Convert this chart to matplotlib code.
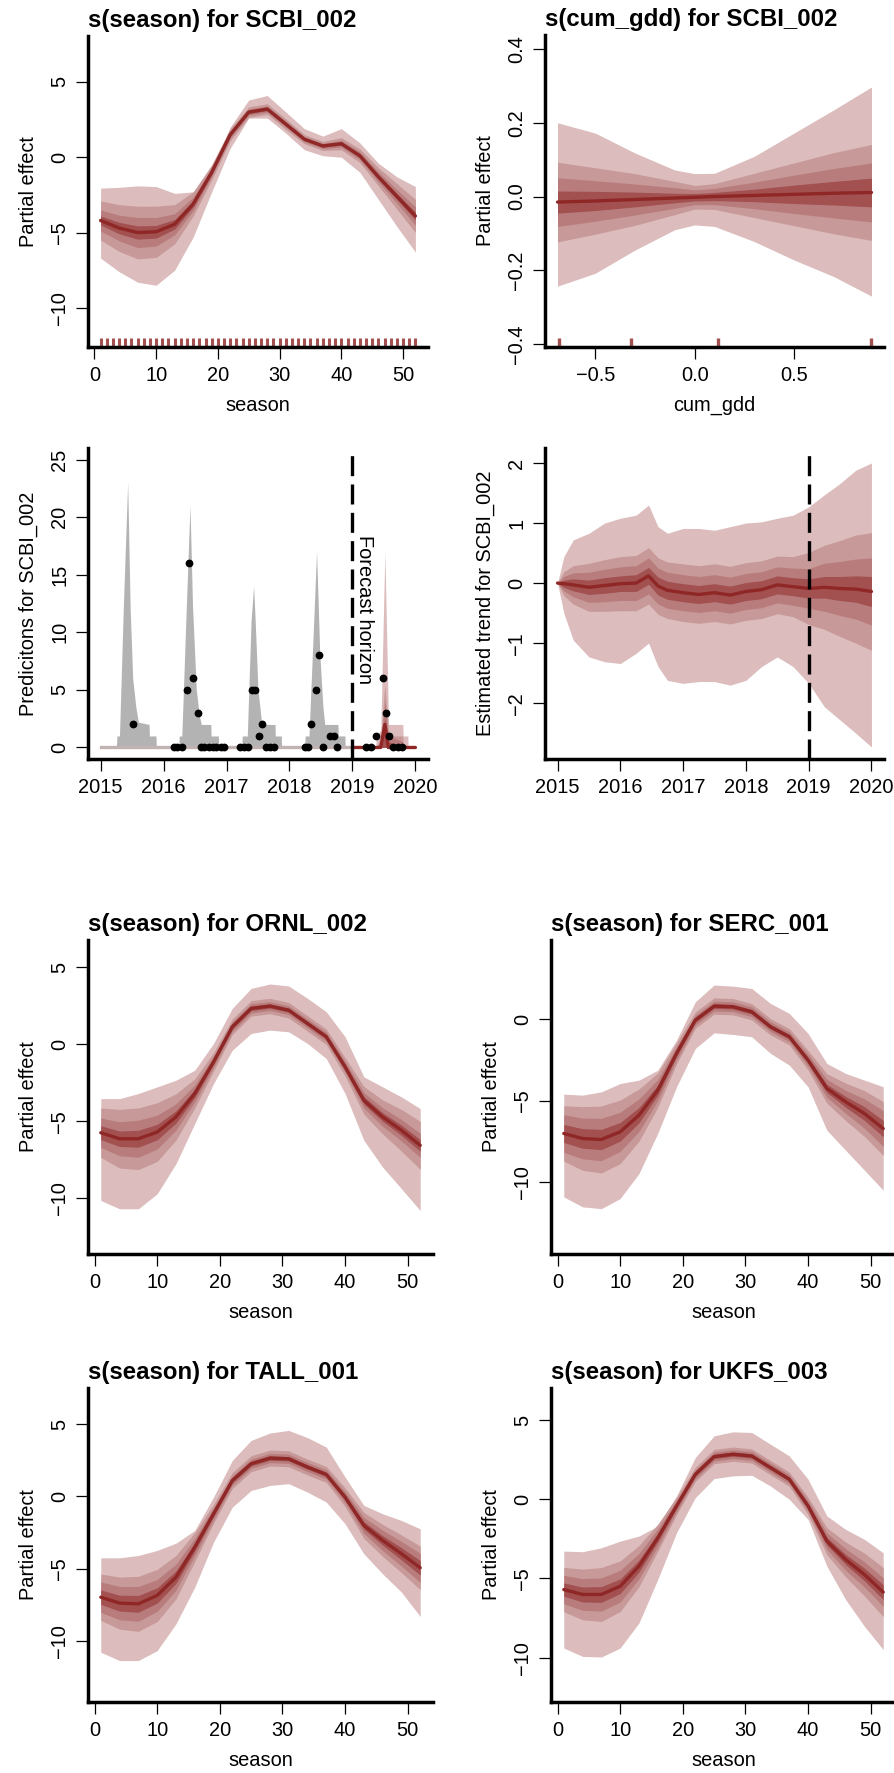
import matplotlib
matplotlib.use("Agg")
import matplotlib.pyplot as plt
import numpy as np

plt.rcParams['font.family'] = ['Liberation Sans', 'DejaVu Sans']

# ---- colours (mvgam "reds") ----
C_OUT, C_60, C_40, C_20, C_MED = "#DCBCBC", "#C79999", "#B97C7C", "#A25050", "#8F2727"
C_GREY = "#B3B3B3"

# ---- seasonal smooths ----
season_pts = [1, 4, 7, 10, 13, 16, 19, 22, 25, 28, 31, 34, 37, 40, 43, 46, 49, 52]
rug_weeks = list(range(1, 53))

scbi_med = [-4.2, -4.7, -5.0, -4.95, -4.45, -3.1, -1.0, 1.5, 3.0, 3.2, 2.2, 1.2, 0.75, 0.9, 0.1, -1.3, -2.6, -3.9]
scbi_hi = [-2.05, -2.0, -1.9, -1.95, -2.4, -2.3, -0.8, 2.0, 3.8, 4.1, 3.0, 1.9, 1.4, 1.9, 0.95, -0.4, -1.3, -1.95]
scbi_lo = [-6.7, -7.6, -8.3, -8.5, -7.5, -5.3, -2.3, 0.6, 2.6, 2.6, 1.6, 0.5, 0.1, 0.0, -1.0, -2.8, -4.6, -6.3]
scbi_w60 = [1.3, 1.55, 1.75, 1.7, 1.3, 0.8, 0.5, 0.4, 0.35, 0.35, 0.35, 0.3, 0.3, 0.4, 0.45, 0.6, 0.85, 1.1]
scbi_w40 = [0.7, 0.85, 1.0, 0.95, 0.7, 0.45, 0.28, 0.22, 0.2, 0.2, 0.2, 0.17, 0.17, 0.22, 0.25, 0.33, 0.45, 0.6]
scbi_w20 = [0.3, 0.38, 0.44, 0.42, 0.32, 0.2, 0.13, 0.1, 0.1, 0.1, 0.1, 0.08, 0.08, 0.1, 0.12, 0.15, 0.2, 0.25]

ornl_med = [-5.74, -6.13, -6.13, -5.7, -4.72, -3.2, -1.15, 1.13, 2.32, 2.47, 2.2, 1.34, 0.48, -1.47, -3.64, -4.72, -5.58, -6.56]
ornl_hi = [-3.53, -3.53, -3.2, -2.77, -2.34, -1.69, 0.04, 2.32, 3.61, 3.9, 3.77, 2.97, 2.1, 0.48, -2.12, -2.77, -3.42, -4.18]
ornl_lo = [-10.13, -10.67, -10.67, -9.7, -7.75, -5.15, -2.55, -0.39, 0.69, 0.91, 0.8, 0.04, -0.93, -3.2, -6.23, -7.97, -9.37, -10.78]
ornl_w60 = [1.6, 1.9, 2.0, 1.9, 1.5, 0.95, 0.6, 0.5, 0.5, 0.5, 0.5, 0.5, 0.5, 0.6, 0.9, 1.1, 1.35, 1.55]
ornl_w40 = [0.95, 1.1, 1.2, 1.1, 0.85, 0.55, 0.35, 0.3, 0.3, 0.28, 0.28, 0.28, 0.3, 0.35, 0.5, 0.6, 0.7, 0.78]
ornl_w20 = [0.45, 0.5, 0.55, 0.5, 0.4, 0.26, 0.16, 0.14, 0.14, 0.13, 0.13, 0.13, 0.14, 0.17, 0.24, 0.28, 0.33, 0.38]

serc_med = [-7.01, -7.32, -7.38, -6.91, -5.89, -4.36, -2.1, -0.06, 0.8, 0.76, 0.45, -0.47, -1.08, -2.52, -4.25, -5.07, -5.79, -6.71]
serc_hi = [-4.6, -4.66, -4.46, -3.95, -3.74, -3.13, -1.29, 1.06, 2.09, 2.02, 1.88, 0.96, 0.35, -0.88, -2.72, -3.33, -3.74, -4.15]
serc_lo = [-10.9, -11.51, -11.62, -11.0, -9.47, -7.01, -4.15, -1.8, -0.84, -0.94, -1.08, -2.1, -2.82, -4.15, -6.81, -8.04, -9.26, -10.49]
serc_w60 = [1.7, 1.95, 2.05, 1.95, 1.6, 1.05, 0.65, 0.5, 0.5, 0.5, 0.5, 0.5, 0.5, 0.6, 0.9, 1.15, 1.4, 1.65]
serc_w40 = [1.15, 1.25, 1.3, 1.2, 1.0, 0.65, 0.4, 0.3, 0.3, 0.3, 0.3, 0.3, 0.3, 0.36, 0.55, 0.7, 0.9, 1.1]
serc_w20 = [0.55, 0.6, 0.62, 0.57, 0.47, 0.3, 0.18, 0.14, 0.14, 0.14, 0.14, 0.14, 0.14, 0.17, 0.25, 0.33, 0.42, 0.5]

tall_med = [-6.96, -7.37, -7.42, -6.84, -5.58, -3.5, -1.2, 1.1, 2.26, 2.65, 2.6, 2.03, 1.52, -0.05, -2.0, -3.04, -3.96, -4.93]
tall_hi = [-4.24, -4.24, -4.08, -3.73, -3.23, -2.35, -0.05, 2.49, 3.87, 4.38, 4.56, 4.06, 3.41, 1.34, -0.62, -1.2, -1.66, -2.24]
tall_lo = [-10.76, -11.34, -11.34, -10.65, -8.8, -6.27, -3.16, -0.74, 0.41, 0.76, 0.88, 0.3, -0.39, -1.89, -3.96, -5.35, -6.61, -8.29]
tall_w60 = [1.6, 1.8, 1.9, 1.8, 1.5, 1.0, 0.65, 0.55, 0.55, 0.55, 0.55, 0.55, 0.55, 0.65, 0.9, 1.1, 1.3, 1.5]
tall_w40 = [1.05, 1.15, 1.2, 1.1, 0.9, 0.6, 0.4, 0.32, 0.32, 0.32, 0.32, 0.32, 0.32, 0.38, 0.55, 0.7, 0.85, 1.0]
tall_w20 = [0.5, 0.55, 0.58, 0.53, 0.43, 0.28, 0.18, 0.15, 0.15, 0.15, 0.15, 0.15, 0.15, 0.18, 0.26, 0.33, 0.42, 0.5]

ukfs_med = [-5.7, -6.01, -6.01, -5.49, -4.22, -2.43, -0.42, 1.58, 2.7, 2.85, 2.74, 2.0, 1.27, -0.42, -2.64, -3.8, -4.75, -5.86]
ukfs_hi = [-3.27, -3.31, -3.06, -2.64, -2.32, -1.69, 0.21, 2.64, 4.01, 4.26, 4.22, 3.48, 2.74, 1.27, -1.05, -1.9, -2.53, -3.38]
ukfs_lo = [-9.39, -9.92, -9.96, -9.39, -7.81, -5.06, -2.11, 0.11, 1.31, 1.48, 1.52, 0.84, 0.0, -1.27, -4.22, -6.33, -8.02, -9.49]
ukfs_w60 = [1.4, 1.6, 1.7, 1.6, 1.3, 0.85, 0.55, 0.45, 0.45, 0.45, 0.45, 0.45, 0.45, 0.55, 0.85, 1.1, 1.35, 1.55]
ukfs_w40 = [0.9, 1.0, 1.05, 1.0, 0.8, 0.55, 0.35, 0.28, 0.28, 0.28, 0.28, 0.28, 0.28, 0.34, 0.52, 0.68, 0.8, 0.9]
ukfs_w20 = [0.42, 0.47, 0.5, 0.46, 0.38, 0.25, 0.16, 0.13, 0.13, 0.13, 0.13, 0.13, 0.13, 0.16, 0.24, 0.32, 0.4, 0.47]

# ---- cum_gdd smooth ----
gdd_x = [-0.69, -0.5, -0.3, -0.1, 0.0, 0.1, 0.3, 0.5, 0.7, 0.89]
gdd_med = [-0.015, -0.012, -0.008, -0.004, -0.002, 0.0, 0.003, 0.006, 0.009, 0.011]
gdd_hi = [0.2, 0.172, 0.118, 0.072, 0.062, 0.063, 0.109, 0.172, 0.235, 0.297]
gdd_lo = [-0.243, -0.208, -0.145, -0.09, -0.077, -0.081, -0.122, -0.172, -0.217, -0.27]
gdd_w60 = [0.108, 0.09, 0.07, 0.045, 0.032, 0.035, 0.06, 0.085, 0.11, 0.13]
gdd_w40 = [0.066, 0.055, 0.042, 0.028, 0.02, 0.022, 0.036, 0.052, 0.067, 0.08]
gdd_w20 = [0.03, 0.026, 0.02, 0.013, 0.01, 0.011, 0.017, 0.025, 0.032, 0.039]
rug_gdd = [-0.685, -0.32, 0.12, 0.89]

# ---- predictions for SCBI_002 ----
hind_t = [2015.00, 2015.25, 2015.26, 2015.30, 2015.36, 2015.43, 2015.47, 2015.51, 2015.56, 2015.60, 2015.77, 2015.775, 2015.88, 2015.885,
          2016.24, 2016.25, 2016.29, 2016.36, 2016.42, 2016.46, 2016.52, 2016.57, 2016.60, 2016.75, 2016.755, 2016.87, 2016.875,
          2017.24, 2017.25, 2017.33, 2017.39, 2017.43, 2017.45, 2017.50, 2017.55, 2017.555, 2017.77, 2017.775, 2017.87, 2017.875,
          2018.24, 2018.25, 2018.31, 2018.37, 2018.43, 2018.48, 2018.53, 2018.56, 2018.77, 2018.775, 2018.88, 2018.885, 2019.00]
hind_hi = [0, 0, 1, 1, 12, 23, 12, 6, 3.5, 2.2, 2, 1, 1, 0,
           0, 1, 1, 12, 21, 12.3, 5, 2.7, 2, 2, 1, 1, 0,
           0, 1, 1, 11, 14, 11.7, 5, 2.5, 2, 2, 1, 1, 0,
           0, 1, 1, 9, 17, 8.3, 3.6, 2, 2, 1, 1, 0, 0]
hind_mid_t = [2015.0, 2019.0]
hind_mid = [0, 0]

fc_t = [2019.00, 2019.37, 2019.38, 2019.45, 2019.515, 2019.57, 2019.575, 2019.80, 2019.805, 2019.88, 2019.885, 2020.00]
fc_q90 = [0, 0, 1, 1.5, 17, 3, 2, 2, 1, 1, 0, 0]
fc_q80 = [0, 0, 0, 1, 5.5, 1.5, 1, 1, 0, 0, 0, 0]
fc_q70 = [0, 0, 0, 0.5, 4, 1, 1, 0.5, 0, 0, 0, 0]
fc_q60 = [0, 0, 0, 0, 2.5, 0.5, 0.5, 0, 0, 0, 0, 0]
fc_med = [0, 0, 0, 0, 2, 0, 0, 0, 0, 0, 0, 0]

obs_t = [2015.51,
         2016.16, 2016.22, 2016.29, 2016.38, 2016.41, 2016.47, 2016.54, 2016.59, 2016.65, 2016.72, 2016.78, 2016.84, 2016.91, 2016.96,
         2017.22, 2017.28, 2017.34, 2017.41, 2017.46, 2017.52, 2017.57, 2017.62, 2017.69, 2017.75,
         2018.24, 2018.30, 2018.34, 2018.42, 2018.47, 2018.53, 2018.64, 2018.71, 2018.76,
         2019.22, 2019.29, 2019.37, 2019.48, 2019.53, 2019.58, 2019.65, 2019.72, 2019.78]
obs_y = [2,
         0, 0, 0, 5, 16, 6, 3, 0, 0, 0, 0, 0, 0, 0,
         0, 0, 0, 5, 5, 1, 2, 0, 0, 0,
         0, 0, 2, 5, 8, 0, 1, 1, 0,
         0, 0, 1, 6, 3, 1, 0, 0, 0]

# ---- estimated trend for SCBI_002 ----
tr_t = [2015.0, 2015.1, 2015.25, 2015.5, 2015.75, 2016.0, 2016.25, 2016.45, 2016.6, 2016.75, 2017.0, 2017.25,
        2017.5, 2017.75, 2018.0, 2018.25, 2018.5, 2018.75, 2019.0, 2019.25, 2019.5, 2019.75, 2020.0]
tr_med = [0, -0.01, -0.03, -0.07, -0.04, -0.01, 0.0, 0.12, -0.05, -0.12, -0.16, -0.19,
          -0.16, -0.2, -0.14, -0.11, -0.03, -0.06, -0.09, -0.07, -0.09, -0.1, -0.14]
tr_hi = [0, 0.44, 0.72, 0.83, 1.0, 1.08, 1.13, 1.3, 0.94, 0.83, 0.91, 0.91,
         0.88, 0.94, 1.0, 1.02, 1.08, 1.13, 1.27, 1.47, 1.66, 1.88, 2.0]
tr_lo = [0, -0.5, -0.95, -1.23, -1.31, -1.34, -1.17, -1.0, -1.39, -1.62, -1.67, -1.64,
         -1.64, -1.7, -1.62, -1.39, -1.23, -1.39, -1.67, -2.06, -2.28, -2.5, -2.73]
tr_w60 = [0, 0.2, 0.32, 0.4, 0.43, 0.45, 0.46, 0.47, 0.47, 0.47, 0.48, 0.48,
          0.48, 0.48, 0.48, 0.48, 0.48, 0.5, 0.6, 0.7, 0.8, 0.9, 0.98]
tr_w40 = [0, 0.12, 0.2, 0.25, 0.27, 0.28, 0.29, 0.3, 0.3, 0.3, 0.3, 0.3,
          0.3, 0.3, 0.3, 0.3, 0.3, 0.31, 0.33, 0.4, 0.45, 0.5, 0.56]
tr_w20 = [0, 0.06, 0.1, 0.12, 0.13, 0.13, 0.14, 0.14, 0.15, 0.15, 0.15, 0.15,
          0.15, 0.15, 0.15, 0.15, 0.15, 0.15, 0.16, 0.18, 0.2, 0.22, 0.25]

year_ticks = [2015, 2016, 2017, 2018, 2019, 2020]
season_ticks = [0, 10, 20, 30, 40, 50]

W, H = 894, 1773
fig = plt.figure(figsize=(W / 100, H / 100), dpi=100)
FS = 14.4


def add_ax(x0, y0, x1, y1):
    return fig.add_axes([x0 / W, 1 - y1 / H, (x1 - x0) / W, (y1 - y0) / H])


def style(ax, yticks, ylabels=None, xticks=None, xlabels=None):
    for s in ["top", "right"]:
        ax.spines[s].set_visible(False)
    for s in ["left", "bottom"]:
        ax.spines[s].set_linewidth(2.5)
    ax.tick_params(length=8.5, width=0.9, labelsize=FS, pad=5)
    ax.set_yticks(yticks)
    if ylabels is not None:
        ax.set_yticklabels(ylabels)
    if xticks is not None:
        ax.set_xticks(xticks)
        if xlabels is not None:
            ax.set_xticklabels(xlabels)
    plt.setp(ax.get_yticklabels(), rotation=90, va="center")


def smooth(ax, x, med, lo, hi, w60, w40, w20):
    med = np.array(med)
    ax.fill_between(x, lo, hi, color=C_OUT, lw=0)
    for w, c in ((w60, C_60), (w40, C_40), (w20, C_20)):
        ax.fill_between(x, med - np.array(w), med + np.array(w), color=c, lw=0)
    ax.plot(x, med, color=C_MED, lw=2.4, solid_capstyle="round")


def season_panel(ax, title, med, lo, hi, w60, w40, w20, ylim, yticks):
    smooth(ax, season_pts, med, lo, hi, w60, w40, w20)
    ax.set_xlim(-1.04, 54.04)
    ax.set_ylim(*ylim)
    style(ax, yticks, xticks=season_ticks)
    ax.set_title(title, loc="left", fontsize=17.3, fontweight="bold", pad=6.5)
    ax.set_ylabel("Partial effect", fontsize=FS, labelpad=9)
    ax.set_xlabel("season", fontsize=FS, labelpad=8)


# panel 1: s(season) SCBI
ax1 = add_ax(88, 36, 428, 347)
season_panel(ax1, "s(season) for SCBI_002", scbi_med, scbi_lo, scbi_hi, scbi_w60, scbi_w40, scbi_w20,
             (-12.6, 8.05), [-10, -5, 0, 5])
ax1.vlines(rug_weeks, 0, 0.03, transform=ax1.get_xaxis_transform(), color=C_20, lw=2.2)

# panel 2: s(cum_gdd) SCBI
ax2 = add_ax(545, 35, 884, 347)
smooth(ax2, gdd_x, gdd_med, gdd_lo, gdd_hi, gdd_w60, gdd_w40, gdd_w20)
ax2.vlines(rug_gdd, 0, 0.03, transform=ax2.get_xaxis_transform(), color=C_20, lw=2.4)
ax2.set_xlim(-0.753, 0.953)
ax2.set_ylim(-0.408, 0.438)
style(ax2, [-0.4, -0.2, 0.0, 0.2, 0.4], ["\u22120.4", "\u22120.2", "0.0", "0.2", "0.4"],
      [-0.5, 0.0, 0.5], ["\u22120.5", "0.0", "0.5"])
ax2.set_title("s(cum_gdd) for SCBI_002", loc="left", fontsize=17.3, fontweight="bold", pad=6.5)
ax2.set_ylabel("Partial effect", fontsize=FS, labelpad=9)
ax2.set_xlabel("cum_gdd", fontsize=FS, labelpad=8)

year_labels = [str(y) for y in year_ticks]
dash = (0, (6, 2.5))

# panel 3: predictions
ax3 = add_ax(88, 448, 428, 759)
ax3.fill_between(hind_t, 0, hind_hi, color=C_GREY, lw=0)
ax3.plot(hind_mid_t, hind_mid, color="#C2B2B2", lw=2.4)
ax3.fill_between(fc_t, 0, fc_q90, color=C_OUT, lw=0)
ax3.fill_between(fc_t, 0, fc_q80, color=C_60, lw=0)
ax3.fill_between(fc_t, 0, fc_q70, color=C_40, lw=0)
ax3.fill_between(fc_t, 0, fc_q60, color=C_20, lw=0)
ax3.plot(fc_t, fc_med, color=C_MED, lw=2.4, solid_capstyle="round")
ax3.axvline(2019, color="black", lw=2.4, ls=dash)
ax3.plot(obs_t, obs_y, "o", color="black", ms=4.6, zorder=5)
ax3.text(2019.04, 12, "Forecast horizon", rotation=270, ha="left", va="center", fontsize=FS)
ax3.set_xlim(2014.8, 2020.2)
ax3.set_ylim(-1, 26)
style(ax3, [0, 5, 10, 15, 20, 25], xticks=year_ticks, xlabels=year_labels)
ax3.set_ylabel("Predicitons for SCBI_002", fontsize=FS, labelpad=9)

# panel 4: trend
ax4 = add_ax(545, 448, 884, 759)
smooth(ax4, tr_t, tr_med, tr_lo, tr_hi, tr_w60, tr_w40, tr_w20)
ax4.axvline(2019, color="black", lw=2.4, ls=dash)
ax4.set_xlim(2014.8, 2020.2)
ax4.set_ylim(-2.93, 2.25)
style(ax4, [-2, -1, 0, 1, 2], xticks=year_ticks, xlabels=year_labels)
ax4.set_ylabel("Estimated trend for SCBI_002", fontsize=FS, labelpad=9)

# lower block
ax5 = add_ax(88, 940, 433, 1254)
season_panel(ax5, "s(season) for ORNL_002", ornl_med, ornl_lo, ornl_hi, ornl_w60, ornl_w40, ornl_w20,
             (-13.6, 6.75), [-10, -5, 0, 5])
ax6 = add_ax(551, 940, 896, 1254)
season_panel(ax6, "s(season) for SERC_001", serc_med, serc_lo, serc_hi, serc_w60, serc_w40, serc_w20,
             (-14.4, 4.85), [-10, -5, 0])
ax7 = add_ax(88, 1388, 433, 1702)
season_panel(ax7, "s(season) for TALL_001", tall_med, tall_lo, tall_hi, tall_w60, tall_w40, tall_w20,
             (-14.2, 7.49), [-10, -5, 0, 5])
ax8 = add_ax(551, 1388, 896, 1702)
season_panel(ax8, "s(season) for UKFS_003", ukfs_med, ukfs_lo, ukfs_hi, ukfs_w60, ukfs_w40, ukfs_w20,
             (-12.8, 7.03), [-10, -5, 0, 5])

fig.savefig("out.png", dpi=100)
